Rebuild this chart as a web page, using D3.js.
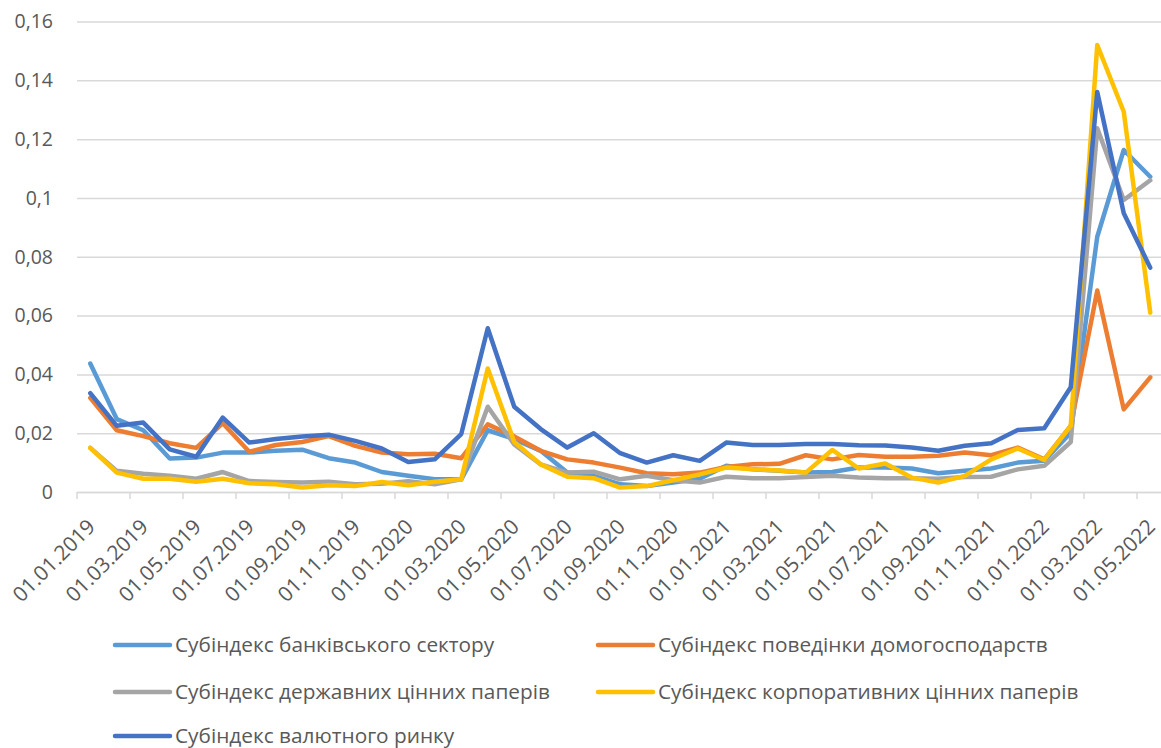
<!DOCTYPE html>
<html><head><meta charset="utf-8">
<script src="https://cdn.jsdelivr.net/npm/d3@7"></script>
<style>
html,body{margin:0;padding:0;background:#fff;}
svg{display:block;font-family:"Open Sans",sans-serif;}
</style></head>
<body><svg id="c" width="1161" height="748"></svg>
<script>
const categories = ["01.01.2019","01.02.2019","01.03.2019","01.04.2019","01.05.2019","01.06.2019","01.07.2019","01.08.2019","01.09.2019","01.10.2019","01.11.2019","01.12.2019",
"01.01.2020","01.02.2020","01.03.2020","01.04.2020","01.05.2020","01.06.2020","01.07.2020","01.08.2020","01.09.2020","01.10.2020","01.11.2020","01.12.2020",
"01.01.2021","01.02.2021","01.03.2021","01.04.2021","01.05.2021","01.06.2021","01.07.2021","01.08.2021","01.09.2021","01.10.2021","01.11.2021","01.12.2021",
"01.01.2022","01.02.2022","01.03.2022","01.04.2022","01.05.2022"];

const seriesNames = ["Субіндекс банківського сектору","Субіндекс поведінки домогосподарств","Субіндекс державних цінних паперів","Субіндекс корпоративних цінних паперів","Субіндекс валютного ринку"];
const seriesColors = ["#5B9BD5","#ED7D31","#A5A5A5","#FFC000","#4472C4"];

const bankSector = [0.0437,0.0248,0.021,0.0114,0.0117,0.0134,0.0134,0.014,0.0144,0.0115,0.010,0.0068,
0.0055,0.0043,0.0043,0.021,0.018,0.014,0.0066,0.0055,0.0026,0.002,0.0032,0.0045,
0.0089,0.0077,0.0072,0.0066,0.0068,0.0083,0.0083,0.008,0.0064,0.0072,0.008,0.01,
0.0106,0.0202,0.0868,0.1163,0.1072];
const households = [0.032,0.021,0.019,0.0166,0.015,0.0234,0.0137,0.016,0.017,0.019,0.0157,0.0134,
0.0128,0.013,0.0115,0.023,0.0189,0.014,0.0111,0.010,0.0083,0.0064,0.006,0.0066,
0.0085,0.0094,0.0096,0.0125,0.0111,0.0126,0.012,0.012,0.0123,0.0134,0.0125,0.0151,
0.0111,0.0225,0.0685,0.0281,0.039];
const govSecurities = [0.015,0.0072,0.0062,0.0055,0.0045,0.0068,0.0037,0.0034,0.0032,0.0035,0.0026,0.0028,
0.0037,0.0026,0.0043,0.029,0.0162,0.0094,0.0066,0.0069,0.0043,0.0055,0.004,0.0032,
0.0052,0.0047,0.0047,0.0051,0.0055,0.0049,0.0047,0.0047,0.0045,0.0051,0.0052,0.0077,
0.0089,0.017,0.1237,0.0993,0.106];
const corpSecurities = [0.015,0.0066,0.0045,0.0045,0.0035,0.0045,0.003,0.0026,0.0015,0.0023,0.002,0.0034,
0.0023,0.0035,0.0043,0.042,0.017,0.0094,0.0052,0.0047,0.0015,0.002,0.004,0.006,
0.0083,0.0077,0.0073,0.0066,0.0143,0.008,0.0097,0.0049,0.0032,0.0055,0.0111,0.0148,
0.0109,0.0225,0.152,0.1293,0.061];
const fxMarket = [0.0336,0.0225,0.0236,0.0145,0.012,0.0253,0.0168,0.018,0.0189,0.0195,0.0174,0.0148,
0.0102,0.0111,0.0197,0.0557,0.029,0.0214,0.0151,0.020,0.0132,0.010,0.0125,0.0106,
0.0168,0.016,0.016,0.0163,0.0163,0.0159,0.0158,0.0151,0.014,0.0157,0.0166,0.0211,
0.0217,0.0356,0.136,0.0948,0.0763];

const yTicks = [0,0.02,0.04,0.06,0.08,0.1,0.12,0.14,0.16];
const xTickLabels = categories.filter((d,i)=>i%2===0);

const allSeries = [bankSector, households, govSecurities, corpSecurities, fxMarket];

const svg = d3.select("#c");
const pLeft = 77, pRight = 1163.5, pTop = 21.5, pBottom = 492;
const x = d3.scaleBand().domain(categories).range([pLeft, pRight]).padding(0);
const y = d3.scaleLinear().domain([0,0.16]).range([pBottom, pTop]);
const fmt = d => String(d).replace(".", ",");

// gridlines + y labels
const ya = svg.append("g").attr("transform",`translate(${pLeft},0)`)
  .call(d3.axisLeft(y).tickValues(yTicks).tickSize(-(pRight-pLeft)).tickPadding(24).tickFormat(fmt));
ya.select(".domain").remove();
ya.selectAll(".tick line").attr("stroke","#D9D9D9").attr("stroke-width",1.5);
ya.selectAll(".tick text").attr("fill","#595959").style("font-size","19.5px").style("font-family","Open Sans");

// x axis baseline and tick marks at category boundaries
const xa = svg.append("g").attr("transform",`translate(0,${pBottom})`)
  .call(d3.axisBottom(x).tickValues(xTickLabels).tickSize(0).tickFormat(d=>d));
xa.select(".domain").attr("stroke","#D9D9D9").attr("stroke-width",1.5);
xa.selectAll(".tick text")
  .attr("fill","#595959").style("font-size","20.8px").style("font-family","Open Sans")
  .attr("text-anchor","end")
  .attr("transform","translate(1,31) rotate(-45)")
  .attr("dy","0.35em").attr("y",0).attr("x",0);
xa.selectAll(".tickmark").data(xTickLabels).enter().append("line")
  .attr("class","tickmark")
  .attr("x1",d=>x(d)).attr("x2",d=>x(d)).attr("y1",0).attr("y2",7)
  .attr("stroke","#D9D9D9").attr("stroke-width",1.5);

// lines
const line = d3.line().x((d,i)=>x(categories[i])+x.bandwidth()/2).y(d=>y(d));
allSeries.forEach((s,k)=>{
  svg.append("path").datum(s).attr("d",line)
    .attr("fill","none").attr("stroke",seriesColors[k]).attr("stroke-width",4.5)
    .attr("stroke-linejoin","round").attr("stroke-linecap","round");
});

// legend
const legendPos = [[115,645],[598,645],[115,692],[598,692],[115,736]];
const lg = svg.append("g");
seriesNames.forEach((n,k)=>{
  const [lx,ly] = legendPos[k];
  lg.append("line").attr("x1",lx).attr("x2",lx+55).attr("y1",ly).attr("y2",ly)
    .attr("stroke",seriesColors[k]).attr("stroke-width",4.5).attr("stroke-linecap","round");
  lg.append("text").attr("x",lx+60).attr("y",ly).attr("dy","0.35em")
    .attr("fill","#595959").style("font-size","20.8px").text(n);
});
</script></body></html>
